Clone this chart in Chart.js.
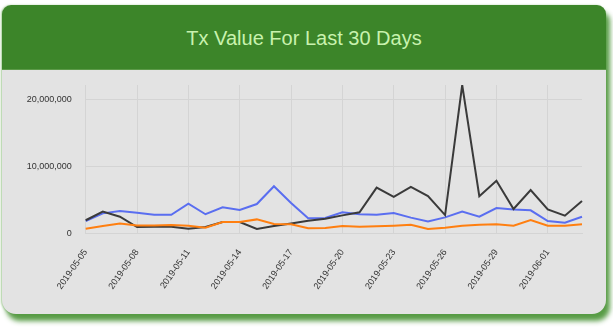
<!DOCTYPE html>
<html>
<head>
<meta charset="utf-8">
<script src="https://cdn.jsdelivr.net/npm/chart.js@4.4.1/dist/chart.umd.min.js"></script>
<style>
  html, body { margin: 0; padding: 0; background: #fff; }
  body { width: 613px; height: 327px; position: relative; overflow: hidden;
         font-family: "Liberation Sans", Arial, Helvetica, sans-serif; }
  .card { position: absolute; left: 2px; top: 5px; width: 604px; height: 309px;
          background: #e3e3e3; border-radius: 9px 9px 14px 14px;
          box-shadow: 4px 7px 5px rgba(70, 145, 50, 0.9), -1px 0 2px rgba(120, 180, 100, 0.6); }
  .card-header { height: 64px; background: #3c8529; border-radius: 9px 9px 0 0;
                 color: #c8f2ae; font-size: 20px; text-align: center; line-height: 66px;
                 border-bottom: 1px solid #5c9a48; }
  .chart-box { position: absolute; left: 0; top: 75px; width: 600px; height: 240px; }
</style>
</head>
<body>
<div class="card">
  <div class="card-header">Tx Value For Last 30 Days</div>
</div>
<div class="chart-box"><canvas id="txChart"></canvas></div>
<script>
const days = [
  '2019-05-05', '2019-05-06', '2019-05-07', '2019-05-08', '2019-05-09', '2019-05-10',
  '2019-05-11', '2019-05-12', '2019-05-13', '2019-05-14', '2019-05-15', '2019-05-16',
  '2019-05-17', '2019-05-18', '2019-05-19', '2019-05-20', '2019-05-21', '2019-05-22',
  '2019-05-23', '2019-05-24', '2019-05-25', '2019-05-26', '2019-05-27', '2019-05-28',
  '2019-05-29', '2019-05-30', '2019-05-31', '2019-06-01', '2019-06-02', '2019-06-03'
];

const totalValue = [
  1970000, 3260000, 2500000, 960000, 1000000, 1000000, 700000, 960000, 1700000, 1700000,
  660000, 1100000, 1500000, 1900000, 2200000, 2700000, 3170000, 6860000, 5470000, 6960000,
  5600000, 2750000, 22240000, 5570000, 7900000, 3660000, 6500000, 3600000, 2660000, 4860000
];

const otherValue = [
  1860000, 3000000, 3360000, 3100000, 2800000, 2800000, 4460000, 2870000, 3900000, 3500000,
  4400000, 7070000, 4560000, 2270000, 2300000, 3170000, 2870000, 2800000, 3060000, 2360000,
  1800000, 2400000, 3260000, 2500000, 3800000, 3600000, 3460000, 1860000, 1600000, 2500000
];

const smallValue = [
  700000, 1100000, 1500000, 1200000, 1200000, 1260000, 1160000, 860000, 1700000, 1700000,
  2100000, 1400000, 1360000, 760000, 810000, 1100000, 1000000, 1060000, 1160000, 1300000,
  660000, 830000, 1160000, 1300000, 1360000, 1160000, 2000000, 1160000, 1160000, 1360000
];

const yTicks = [0, 10000000, 20000000];

const gridColor = '#d4d4d4';
const tickFont = { family: "'Liberation Sans', Arial, sans-serif", size: 9 };

const data = {
  labels: days,
  datasets: [{
    label: 'small',
    data: smallValue,
    borderColor: '#ff7f10',
    backgroundColor: '#ff7f10',
  },{
    label: 'total',
    data: totalValue,
    borderColor: '#3a3a3a',
    backgroundColor: '#3a3a3a',
  },{
    label: 'other',
    data: otherValue,
    borderColor: '#5a6ef0',
    backgroundColor: '#5a6ef0',
  }]
};

const config = {
  type: 'line',
  data: data,
  options: {
    responsive: true,
    maintainAspectRatio: false,
    animation: false,
    layout: { padding: { top: 10, right: 18, bottom: 0, left: 0 } },
    elements: {
      line: { borderWidth: 2, tension: 0 },
      point: { radius: 0 }
    },
    scales: {
      x: {
        grid: {
          color: gridColor,
          drawTicks: false,
        },
        border: { color: gridColor },
        ticks: {
          autoSkip: false,
          minRotation: 55,
          maxRotation: 55,
          padding: 14,
          color: '#333',
          font: tickFont,
          // every third day gets a label and a grid line
          callback: function (value, index) {
            return index % 3 === 0 ? days[index] : null;
          }
        },
        afterFit: function (scale) { scale.height = 81.6; }
      },
      y: {
        min: 0,
        max: Math.max(...totalValue),
        grid: {
          color: gridColor,
          drawTicks: false,
        },
        border: { color: gridColor },
        ticks: {
          includeBounds: false,
          padding: 14,
          color: '#333',
          font: tickFont,
          callback: function (value) { return value.toLocaleString('en-US'); }
        },
        afterBuildTicks: function (scale) {
          scale.ticks = yTicks.map(v => ({ value: v }));
        },
        afterFit: function (scale) {
          scale.width = 85.7;
          // the tick padding should not push the plot down
          scale.paddingTop = 0;
          scale.paddingBottom = 0;
        }
      }
    },
    plugins: {
      legend: { display: false },
      tooltip: { enabled: false },
    },
  }
};

const txChart = new Chart(
  document.getElementById('txChart'),
  config
);
</script>
</body>
</html>
